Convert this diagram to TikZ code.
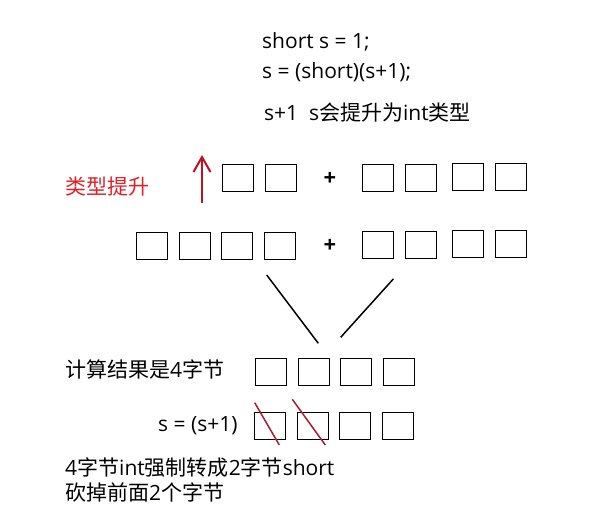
\documentclass[tikz,border=0pt]{standalone}
\usepackage{fontspec}
\setmainfont{Open Sans}
\newfontfamily\cjk{Noto Sans CJK SC}
\usetikzlibrary{arrows.meta}
\definecolor{labelred}{RGB}{222,32,38}
\definecolor{arrowred}{RGB}{185,20,35}
\definecolor{slashred}{RGB}{165,30,50}
\begin{document}
\begin{tikzpicture}[x=1pt,y=-1pt,
  byte/.style={draw=black,line width=1.4pt,minimum width=31pt,minimum height=27pt,inner sep=0pt,outer sep=0pt},
  txt/.style={anchor=base west,inner sep=0pt,font=\fontsize{21}{25}\selectfont},
  plus/.style={inner sep=0pt,font=\fontsize{22}{26}\selectfont\bfseries},
  link/.style={draw=black,line width=1.5pt},
  slash/.style={draw=slashred,line width=1.5pt}]
\useasboundingbox (0,0) rectangle (590,526);
% code text
\node[txt] (l1) at (262,49) {short s = 1;};
\node[txt] (l2) at (262,79) {s = (short)(s+1);};
\node[txt] (l3) at (264,121) {s+1\ \ s{\cjk 会提升为}int{\cjk 类型}};
% type promotion label and arrow
\node[txt,text=labelred] (tp) at (65,195) {\cjk 类型提升};
\coordinate (arrA) at (202,203);
\coordinate (arrB) at (202,155);
\draw[draw=arrowred,line width=2pt,-{Straight Barb[length=15pt,width=17pt,line width=2pt]}] (arrA) -- (arrB);
% row 1
\node[byte] (a1) at (238,178) {};
\node[byte] (a2) at (281,178) {};
\node[plus] (p1) at (330,179) {+};
\node[byte] (a3) at (378,178) {};
\node[byte] (a4) at (421,178) {};
\node[byte] (a5) at (468,177) {};
\node[byte] (a6) at (511,177) {};
% row 2
\node[byte] (b1) at (152,246) {};
\node[byte] (b2) at (195,246) {};
\node[byte] (b3) at (237,246) {};
\node[byte] (b4) at (280,246) {};
\node[plus] (p2) at (330,246) {+};
\node[byte] (b5) at (378,245) {};
\node[byte] (b6) at (421,245) {};
\node[byte] (b7) at (468,244) {};
\node[byte] (b8) at (511,244) {};
% converging lines
\coordinate (cl1) at (266.7,275);
\coordinate (cl2) at (318.3,343.3);
\coordinate (cr1) at (393.3,279);
\coordinate (cr2) at (340.7,337.3);
\draw[link] (cl1) -- (cl2);
\draw[link] (cr1) -- (cr2);
% result row
\node[txt] (res) at (65,378) {{\cjk 计算结果是}4{\cjk 字节}};
\node[byte] (c1) at (271,372) {};
\node[byte] (c2) at (314,372) {};
\node[byte] (c3) at (356,372) {};
\node[byte] (c4) at (399,372) {};
% s row
\node[txt] (seq) at (158,432) {s = (s+1)};
\node[byte] (d1) at (270,426) {};
\node[byte] (d2) at (313,426) {};
\node[byte] (d3) at (355,426) {};
\node[byte] (d4) at (398,426) {};
\coordinate (s1a) at (254.7,402.7);
\coordinate (s1b) at (279.3,445);
\coordinate (s2a) at (292.3,399.3);
\coordinate (s2b) at (325.3,445);
\draw[slash] (s1a) -- (s1b);
\draw[slash] (s2a) -- (s2b);
% bottom text
\node[txt] (n1) at (65,476) {4{\cjk 字节}int{\cjk 强制转成}2{\cjk 字节}short};
\node[txt] (n2) at (65,501) {{\cjk 砍掉前面}2{\cjk 个字节}};
\end{tikzpicture}
\end{document}
